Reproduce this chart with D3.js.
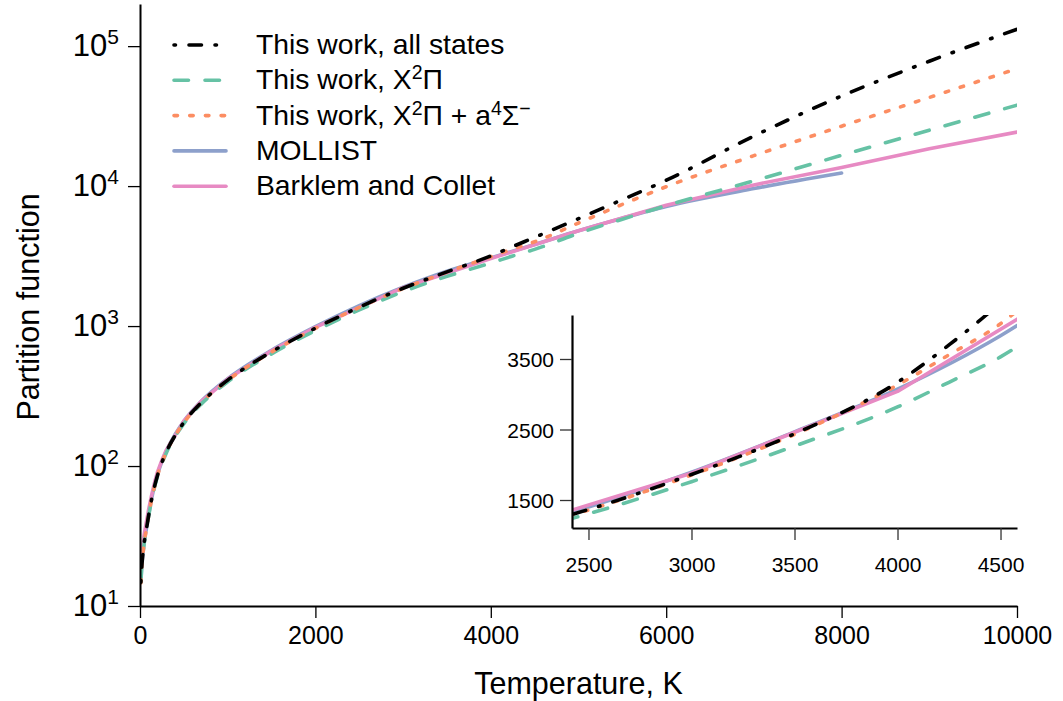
<!DOCTYPE html>
<html>
<head>
<meta charset="UTF-8">
<script src="https://cdn.jsdelivr.net/npm/d3@7"></script>
<style>
  body { margin: 0; background: #fff; }
  text { font-family: "Liberation Sans", Arial, Helvetica, sans-serif; fill: #000; }
</style>
</head>
<body>
<svg id="chart" width="1063" height="701"></svg>
<script>
// ---- data ----
var tWork = [10, 20, 30, 50, 75, 100, 150, 200, 300, 400, 500, 700, 1000, 1500, 2000, 2500, 3000, 3500, 4000, 4250, 4500, 5000, 5500, 6000, 7000, 8000, 9000, 10000];
var qAllStates = [14.8, 19, 22.5, 29, 36, 45, 65, 86, 126, 165, 205, 285, 411, 655, 966, 1365, 1862, 2439, 3170, 3700, 4300, 5850, 8000, 11000, 22800, 44000, 78000, 132000];
var qX2Pi = [14.8, 19, 22.4, 28.8, 35.7, 44.5, 64.2, 85, 124, 162, 201, 278, 400, 633, 928, 1305, 1760, 2265, 2820, 3170, 3530, 4600, 5800, 7250, 10900, 16600, 25100, 37900];
var qX2PiA4 = [14.6, 18.9, 22.4, 28.9, 35.9, 44.8, 64.8, 85.8, 125.5, 164.5, 204, 284, 409, 652, 962, 1358, 1855, 2430, 3130, 3560, 4000, 5450, 7400, 9900, 16500, 26800, 43000, 69000];
var tMollist = [10, 20, 30, 50, 75, 100, 150, 200, 300, 400, 500, 700, 1000, 1500, 2000, 2500, 3000, 3500, 4000, 4500, 5000, 5500, 6000, 7000, 8000];
var qMollist = [15, 19.3, 22.8, 29.3, 36.3, 45.5, 65.8, 87, 128, 168, 209, 291, 421, 672, 990, 1400, 1895, 2467, 3071, 3830, 4800, 5900, 7150, 9600, 12400];
var tBarklem = [10, 15, 20, 30, 50, 70, 100, 130, 170, 200, 250, 300, 500, 700, 1000, 1500, 2000, 3000, 4000, 5000, 6000, 7000, 8000, 9000, 10000];
var qBarklem = [20.7, 22.5, 24.2, 27.3, 33, 39, 49.5, 61, 78, 91, 110, 130, 210, 290, 418, 665, 980, 1880, 3040, 4800, 7300, 10200, 13600, 18500, 24300];

var xTicks = [0, 2000, 4000, 6000, 8000, 10000];
var xMinorTicks = d3.range(0, 10001, 500);
var yTicks = [10, 100, 1000, 10000, 100000];
var insetXTicks = [2500, 3000, 3500, 4000, 4500];
var insetYTicks = [1500, 2500, 3500];

function pts(t, q) { return t.map(function(d, i){ return {t: d, q: q[i]}; }); }

// drawn bottom to top; legend order kept separately
var series = [
  {key: "mollist", data: pts(tMollist, qMollist), color: "#8DA0CB", dash: null, curve: d3.curveMonotoneX},
  {key: "barklem", data: pts(tBarklem, qBarklem), color: "#E78AC3", dash: null, curve: d3.curveLinear},
  {key: "x2pi", data: pts(tWork, qX2Pi), color: "#66C2A5", dash: "14.5,16.5", curve: d3.curveMonotoneX},
  {key: "x2pia4", data: pts(tWork, qX2PiA4), color: "#FC8D62", dash: "3.5,12.2", curve: d3.curveMonotoneX},
  {key: "all", data: pts(tWork, qAllStates), color: "#000000", dash: "1.5,13.5,12.5,13.5", curve: d3.curveMonotoneX}
];
var legendOrder = ["all", "x2pi", "x2pia4", "mollist", "barklem"];
var legendText = {
  all: [["This work, all states"]],
  x2pi: [["This work, X"], ["2", "sup"], ["\u03A0"]],
  x2pia4: [["This work, X"], ["2", "sup"], ["\u03A0 + a"], ["4", "sup"], ["\u03A3"], ["\u2212", "sup"]],
  mollist: [["MOLLIST"]],
  barklem: [["Barklem and Collet"]]
};

var svg = d3.select("#chart");
svg.append("rect").attr("width", 1063).attr("height", 701).attr("fill", "#fff");

var x = d3.scaleLinear().domain([0, 10000]).range([140, 1017]);
var y = d3.scaleLog().domain([10, 2e5]).range([606, 4]);
var fmt = d3.format("d");

var defs = svg.append("defs");
defs.append("clipPath").attr("id", "clipMain").append("rect")
  .attr("x", 140).attr("y", 4).attr("width", 877).attr("height", 602);

var lw = 3.6;

// main curves
var gMain = svg.append("g").attr("clip-path", "url(#clipMain)");
series.forEach(function(s){
  var line = d3.line().x(function(d){ return x(d.t); }).y(function(d){ return y(d.q); }).curve(s.curve);
  gMain.append("path").datum(s.data)
    .attr("d", line)
    .attr("fill", "none")
    .attr("stroke", s.color)
    .attr("stroke-width", lw)
    .attr("stroke-linecap", "round")
    .attr("stroke-linejoin", "round")
    .attr("stroke-dasharray", s.dash);
});

// main x axis
var gx = svg.append("g").attr("transform", "translate(0,606)");
gx.call(d3.axisBottom(x).tickValues(xMinorTicks).tickSize(7).tickSizeOuter(0).tickFormat(""));
gx.call(d3.axisBottom(x).tickValues(xTicks).tickSize(12).tickSizeOuter(0).tickPadding(8).tickFormat(fmt));
gx.selectAll(".domain").attr("stroke", "#000").attr("stroke-width", 2);
gx.selectAll(".tick line").attr("stroke", "#000").attr("stroke-width", 1.3);
gx.selectAll(".tick text").attr("font-size", 25).attr("font-family", "Liberation Sans, Arial, sans-serif")
  .attr("fill", "#000").attr("dy", "0.72em");

// main y axis
var gy = svg.append("g").attr("transform", "translate(140,0)");
gy.call(d3.axisLeft(y).tickValues(yTicks).tickSize(12).tickSizeOuter(0).tickFormat(""));
gy.selectAll(".domain").attr("stroke", "#000").attr("stroke-width", 2);
gy.selectAll(".tick line").attr("stroke", "#000").attr("stroke-width", 1.3);
yTicks.forEach(function(v){
  var t = svg.append("text").attr("x", 119).attr("y", y(v) + 10)
    .attr("text-anchor", "end").attr("font-size", 31);
  t.append("tspan").text("10");
  t.append("tspan").attr("dy", -12.5).attr("font-size", 21).text(String(Math.round(Math.log10(v))));
});

// axis titles
svg.append("text").attr("x", 578.5).attr("y", 694).attr("text-anchor", "middle")
  .attr("font-size", 30.5).text("Temperature, K");
svg.append("text").attr("transform", "translate(39,307) rotate(-90)").attr("text-anchor", "middle")
  .attr("font-size", 30.5).text("Partition function");

// legend
var gLeg = svg.append("g");
legendOrder.forEach(function(k, i){
  var s = series.filter(function(d){ return d.key === k; })[0];
  var ry = 45 + i * 35.3;
  gLeg.append("line").attr("x1", 174).attr("x2", 226).attr("y1", ry).attr("y2", ry)
    .attr("stroke", s.color).attr("stroke-width", lw)
    .attr("stroke-linecap", "round").attr("stroke-dasharray", s.dash);
  var t = gLeg.append("text").attr("x", 256).attr("y", ry + 9).attr("font-size", 28.3);
  var raised = false;
  legendText[k].forEach(function(p){
    var sp = t.append("tspan").text(p[0]);
    if (p[1] === "sup" && !raised) { sp.attr("dy", -10).attr("font-size", 19.5); raised = true; }
    else if (p[1] === "sup") { sp.attr("font-size", 19.5); }
    else if (raised) { sp.attr("dy", 10); raised = false; }
  });
});

// ---- inset ----
var xi = d3.scaleLinear().domain([2420, 4580]).range([572, 1017]);
var yi = d3.scaleLinear().domain([1103, 4124]).range([528, 315]);
defs.append("clipPath").attr("id", "clipInset").append("rect")
  .attr("x", 572).attr("y", 315).attr("width", 445).attr("height", 213);

var gIn = svg.append("g").attr("clip-path", "url(#clipInset)");
series.forEach(function(s){
  var line = d3.line().x(function(d){ return xi(d.t); }).y(function(d){ return yi(d.q); }).curve(s.curve);
  gIn.append("path").datum(s.data)
    .attr("d", line)
    .attr("fill", "none")
    .attr("stroke", s.color)
    .attr("stroke-width", lw)
    .attr("stroke-linecap", "round")
    .attr("stroke-linejoin", "round")
    .attr("stroke-dasharray", s.dash);
});

var gxi = svg.append("g").attr("transform", "translate(0,528)");
gxi.call(d3.axisBottom(xi).tickValues(insetXTicks).tickSize(12).tickSizeOuter(0).tickPadding(17).tickFormat(fmt));
var gyi = svg.append("g").attr("transform", "translate(572,0)");
gyi.call(d3.axisLeft(yi).tickValues(insetYTicks).tickSize(12).tickSizeOuter(0).tickPadding(6).tickFormat(fmt));
[gxi, gyi].forEach(function(g){
  g.selectAll(".domain").attr("stroke", "#000").attr("stroke-width", 2.2);
  g.selectAll(".tick line").attr("stroke", "#333").attr("stroke-width", 1.3);
  g.selectAll(".tick text").attr("font-size", 21).attr("font-family", "Liberation Sans, Arial, sans-serif").attr("fill", "#000");
});
gxi.selectAll(".tick text").attr("dy", "0.72em");
gyi.selectAll(".tick text").attr("dy", "0.36em");
</script>
</body>
</html>
